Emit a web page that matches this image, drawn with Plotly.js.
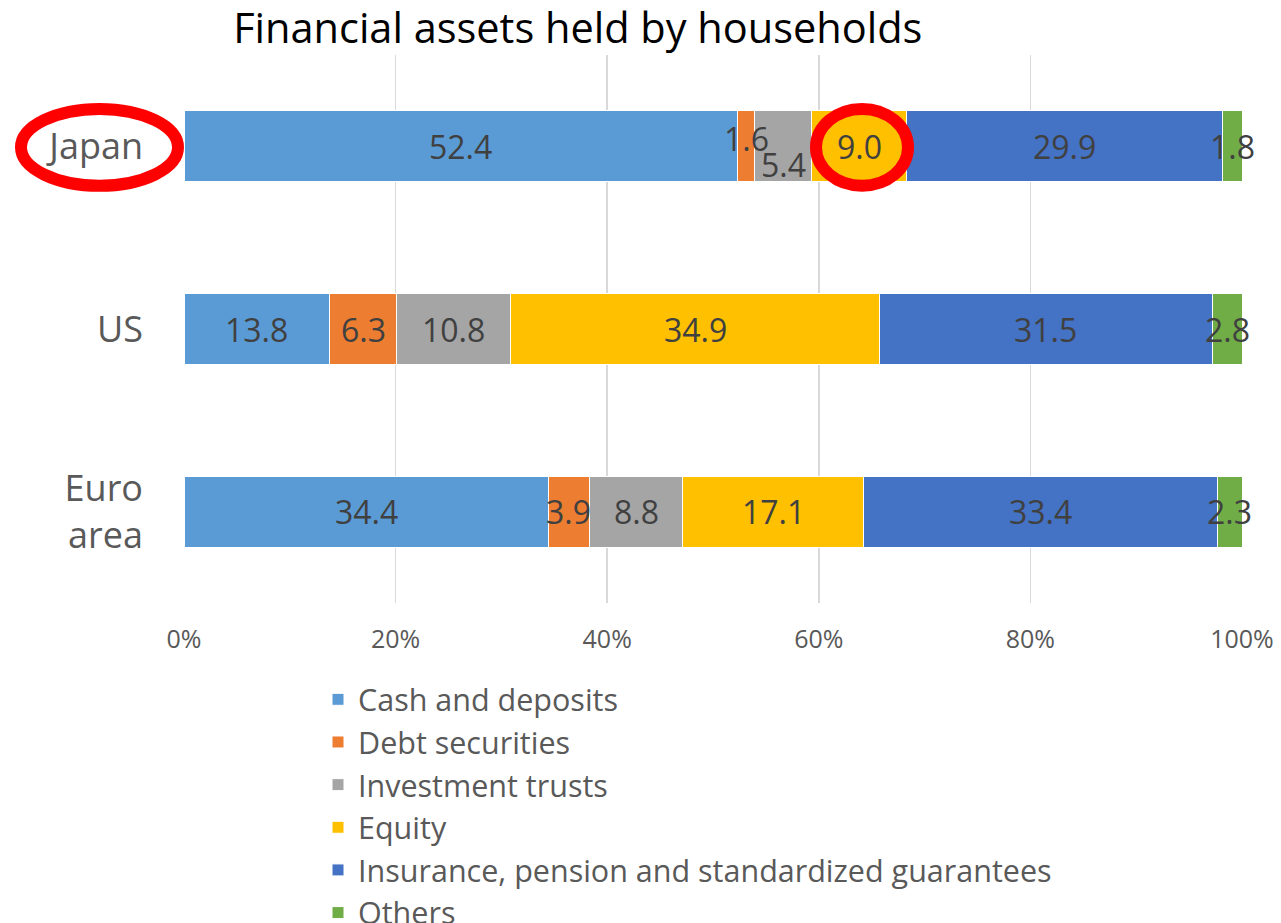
<!DOCTYPE html>
<html>
<head>
<meta charset="utf-8">
<script src="https://cdn.plot.ly/plotly-3.0.1.min.js"></script>
<style>html,body{margin:0;padding:0;background:#fff;}#chart{width:1281px;height:923px;}</style>
</head>
<body>
<div id="chart"></div>
<script>
// ---- data ----
var regions = ["Japan", "US", "Euro<br>area"];
var seriesNames = ["Cash and deposits", "Debt securities", "Investment trusts", "Equity",
  "Insurance, pension and standardized guarantees", "Others"];
var cashDeposits = [52.4, 13.8, 34.4];
var debtSecurities = [1.6, 6.3, 3.9];
var investmentTrusts = [5.4, 10.8, 8.8];
var equity = [9.0, 34.9, 17.1];
var insurancePension = [29.9, 31.5, 33.4];
var others = [1.8, 2.8, 2.3];
var xTickValues = [0, 20, 40, 60, 80, 100];
var xTickLabels = ["0%", "20%", "40%", "60%", "80%", "100%"];
var chartTitle = "Financial assets held by households";

var seriesValues = [cashDeposits, debtSecurities, investmentTrusts, equity, insurancePension, others];
var colors = ["#5B9BD5", "#ED7D31", "#A5A5A5", "#FFC000", "#4472C4", "#70AD47"];
var FONT = "'Open Sans', Lato, sans-serif";

var traces = seriesValues.map(function (vals, i) {
  return {
    type: "bar",
    orientation: "h",
    name: seriesNames[i],
    y: regions,
    x: vals,
    width: 0.39,
    marker: {color: colors[i], line: {color: "#ffffff", width: 1}},
    hoverinfo: "name+x"
  };
});

// label positions, normalised to 100% like the bars
var totals = regions.map(function (r, j) {
  return seriesValues.reduce(function (s, v) { return s + v[j]; }, 0);
});
var labelShift = {"1-0": 8, "2-0": -18};
var annotations = [];
regions.forEach(function (r, j) {
  var cum = 0;
  seriesValues.forEach(function (vals, i) {
    var v = vals[j];
    var mid = (cum + v / 2) / totals[j] * 100;
    cum += v;
    annotations.push({
      x: mid, y: r, xref: "x", yref: "y",
      text: v.toFixed(1), showarrow: false,
      yshift: labelShift[i + "-" + j] || 0,
      font: {family: FONT, size: 32, color: "#404040"}
    });
  });
});

var layout = {
  width: 1281, height: 923,
  margin: {l: 184, r: 39, t: 55, b: 320, autoexpand: false},
  paper_bgcolor: "#ffffff", plot_bgcolor: "#ffffff",
  barmode: "stack", barnorm: "percent",
  title: {
    text: chartTitle, xref: "container", x: 0.451, xanchor: "center",
    yref: "container", y: 1 - 28 / 923, yanchor: "middle",
    font: {family: FONT, size: 41.5, color: "#000000"}
  },
  font: {family: FONT, color: "#595959"},
  xaxis: {
    range: [0, 100], tickvals: xTickValues, ticktext: xTickLabels,
    showgrid: true, gridcolor: "#d9d9d9", gridwidth: 1.5,
    zeroline: false, showline: false, ticks: "",
    tickfont: {family: FONT, size: 25, color: "#595959"},
    ticklabelstandoff: 19, fixedrange: true
  },
  yaxis: {
    type: "category", autorange: "reversed",
    showgrid: false, zeroline: false, showline: false, ticks: "",
    tickfont: {family: FONT, size: 36, color: "#595959"},
    ticklabelstandoff: 40, fixedrange: true
  },
  showlegend: true,
  legend: {
    orientation: "v", traceorder: "normal",
    xref: "container", yref: "container",
    x: 318 / 1281, xanchor: "left",
    y: 1 - 673 / 923, yanchor: "top",
    font: {family: FONT, size: 30.5, color: "#595959"},
    bgcolor: "rgba(0,0,0,0)", borderwidth: 0
  },
  shapes: [
    {type: "circle", xref: "x", yref: "paper",
     x0: (816 - 184) / 1058 * 100, x1: (908 - 184) / 1058 * 100,
     y0: 1 - (186 - 55) / 549, y1: 1 - (109 - 55) / 549,
     line: {color: "#FF0000", width: 12}},
    {type: "circle", xref: "paper", yref: "paper",
     x0: (21 - 184) / 1058, x1: (178 - 184) / 1058,
     y0: 1 - (186 - 55) / 549, y1: 1 - (109 - 55) / 549,
     line: {color: "#FF0000", width: 12}}
  ],
  annotations: annotations
};

Plotly.newPlot("chart", traces, layout, {displayModeBar: false, staticPlot: true});
</script>
</body>
</html>
